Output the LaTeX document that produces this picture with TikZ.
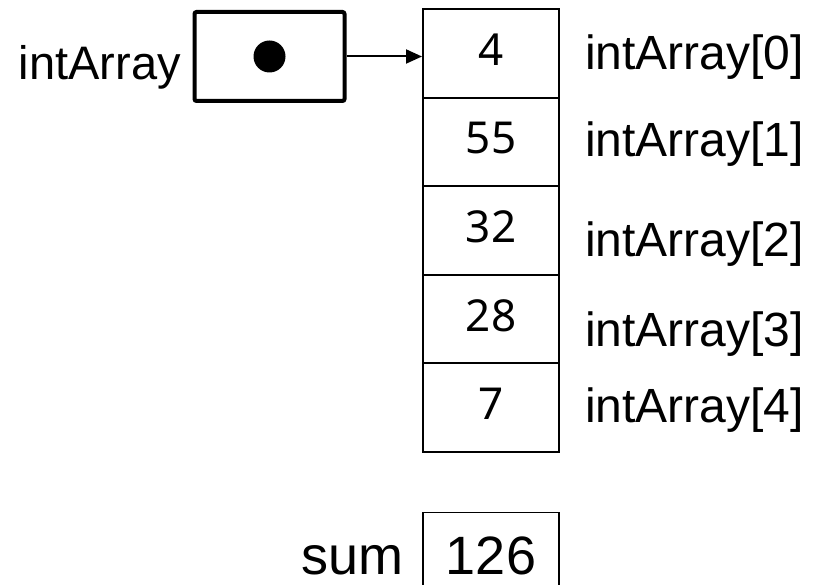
\documentclass[tikz,border=0pt]{standalone}
\usepackage{fontspec}
\setmainfont{Liberation Sans}
\newfontfamily\cellfont{Noto Sans}
\usetikzlibrary{arrows.meta}

\begin{document}
\begin{tikzpicture}[x=1pt, y=-1pt,
  cell/.style={draw, line width=2pt, minimum width=136pt, minimum height=88.6pt, inner sep=0pt, text depth=8pt, font=\cellfont\fontsize{44}{44}\selectfont},
  idxlabel/.style={anchor=base west, inner sep=0pt, font=\fontsize{48}{48}\selectfont}]
\useasboundingbox (0,0) rectangle (815,585);
\clip (0,0) rectangle (815,585);
% pointer variable
\node[draw, line width=4pt, rounded corners=2pt, minimum width=150pt, minimum height=89pt] (ptr) at (269.5,56.5) {};
\node[circle, fill, minimum size=32pt, inner sep=0pt] (dot) at (ptr) {};
\node[anchor=base east, inner sep=0pt, font=\fontsize{47}{47}\selectfont] (name) at (181,80) {intArray};
% array cells
\node[cell] (c0) at (491,53.3) {4};
\node[cell] (c1) at (491,141.9) {55};
\node[cell] (c2) at (491,230.5) {32};
\node[cell] (c3) at (491,319.1) {28};
\node[cell] (c4) at (491,407.7) {7};
\draw[-{Triangle[length=16pt,width=14pt]}, line width=2pt] (ptr.east) -- (c0.west |- ptr.east);
% element names
\node[idxlabel] (l0) at (585,70) {intArray[0]};
\node[idxlabel] (l1) at (585,157) {intArray[1]};
\node[idxlabel] (l2) at (585,257) {intArray[2]};
\node[idxlabel] (l3) at (585,347) {intArray[3]};
\node[idxlabel] (l4) at (585,423) {intArray[4]};
% sum
\node[draw, line width=1.5pt, minimum width=136pt, minimum height=100pt, anchor=north] (sumbox) at (491,512) {};
\node[anchor=base, inner sep=0pt, font=\fontsize{54}{54}\selectfont] (total) at (sumbox.north |- 0,574) {126};
\node[anchor=base east, inner sep=0pt, font=\fontsize{54}{54}\selectfont] (sumname) at (404,574) {sum};
\end{tikzpicture}
\end{document}
